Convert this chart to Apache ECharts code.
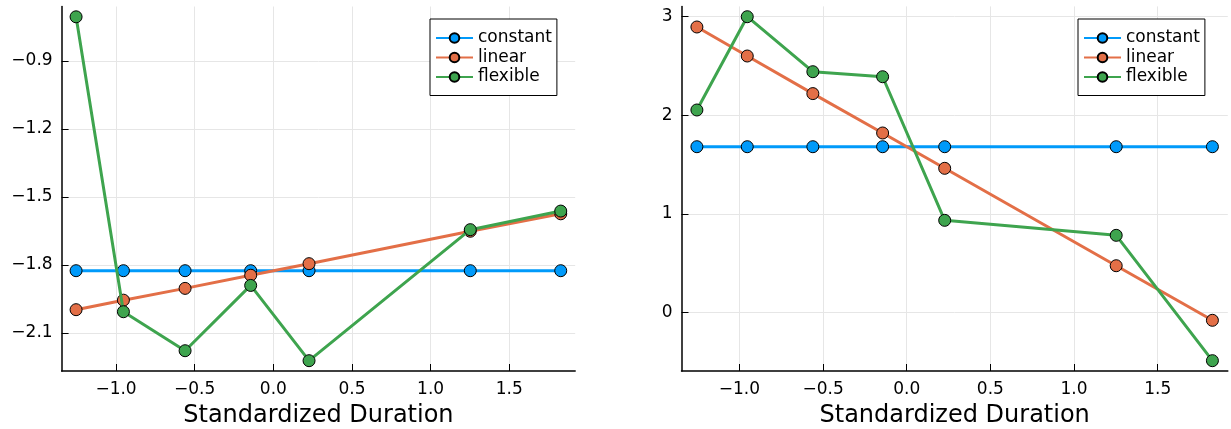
<!DOCTYPE html>
<html><head><meta charset="utf-8">
<script src="https://cdn.jsdelivr.net/npm/echarts@6/dist/echarts.min.js"></script>
<style>html,body{margin:0;padding:0;background:#fff}#c{width:1231px;height:429px}</style>
</head><body><div id="c"></div>
<script>
const duration = [-1.254, -0.953, -0.561, -0.144, 0.227, 1.252, 1.827];
const leftConstant = [-1.825, -1.825, -1.825, -1.825, -1.825, -1.825, -1.825];
const leftLinear = [-1.997, -1.955, -1.903, -1.845, -1.794, -1.651, -1.574];
const leftFlexible = [-0.705, -2.006, -2.178, -1.890, -2.222, -1.644, -1.562];
const rightConstant = [1.682, 1.682, 1.682, 1.682, 1.682, 1.682, 1.682];
const rightLinear = [2.895, 2.601, 2.220, 1.821, 1.463, 0.476, -0.077];
const rightFlexible = [2.054, 2.999, 2.442, 2.391, 0.936, 0.784, -0.486];
const xTicks = [-1.0, -0.5, 0.0, 0.5, 1.0, 1.5];
const leftYTicks = [-2.1, -1.8, -1.5, -1.2, -0.9];
const rightYTicks = [0, 1, 2, 3];
const seriesNames = ['constant', 'linear', 'flexible'];
const colors = ['#009AFA', '#E36F47', '#3EA44E'];
const xTitle = 'Standardized Duration';

const FONT = 'DejaVu Sans';
const fmt = d => v => (v < -1e-9 ? '\u2212' : '') + Math.abs(v).toFixed(d);

function xAxis(gi) {
  return {
    type: 'value', gridIndex: gi, min: -1.346, max: 1.919,
    name: xTitle, nameLocation: 'middle', nameGap: 33,
    nameTextStyle: {fontSize: 24, color: '#000', fontFamily: FONT},
    axisLine: {show: true, onZero: false, lineStyle: {color: '#000', width: 1.5}},
    axisTick: {show: true, inside: true, length: 7, customValues: xTicks, lineStyle: {color: '#000', width: 1}},
    axisLabel: {customValues: xTicks, formatter: fmt(1), fontSize: 17, color: '#000', fontFamily: FONT, margin: 10},
    splitLine: {show: true, lineStyle: {color: '#e6e6e6', width: 1}}
  };
}
function yAxis(gi, min, max, ticks, dec) {
  return {
    type: 'value', gridIndex: gi, min: min, max: max,
    axisLine: {show: true, onZero: false, lineStyle: {color: '#000', width: 1.5}},
    axisTick: {show: true, inside: true, length: 7, customValues: ticks, lineStyle: {color: '#000', width: 1}},
    axisLabel: {customValues: ticks, formatter: fmt(dec), fontSize: 17, color: '#000', fontFamily: FONT, margin: 9},
    splitLine: {show: true, lineStyle: {color: '#e6e6e6', width: 1}}
  };
}
function mk(name, idx, gi, vals) {
  return {
    name: name, type: 'line', xAxisIndex: gi, yAxisIndex: gi,
    data: duration.map((x, i) => [x, vals[i]]),
    symbol: 'circle', symbolSize: 12, showSymbol: true,
    lineStyle: {color: colors[idx], width: 3},
    itemStyle: {color: colors[idx], borderColor: '#000', borderWidth: 1},
    emphasis: {disabled: true}, silent: true, z: 2 + idx
  };
}
function legend(left) {
  return {
    data: seriesNames, left: left, top: 19, orient: 'vertical',
    itemWidth: 37, itemHeight: 12, itemGap: 2.5, padding: [10.5, 5, 10, 5],
    borderColor: '#000', borderWidth: 1, backgroundColor: '#fff',
    textStyle: {fontSize: 17, color: '#000', fontFamily: FONT}
  };
}
const chart = echarts.init(document.getElementById('c'), null, {renderer: 'canvas'});
chart.setOption({
  animation: false,
  backgroundColor: '#fff',
  grid: [
    {left: 61.6, right: 655.8, top: 6.5, bottom: 58, containLabel: false, outerBoundsMode: 'none'},
    {left: 681.5, right: 3.2, top: 6.4, bottom: 58, containLabel: false, outerBoundsMode: 'none'}
  ],
  xAxis: [xAxis(0), xAxis(1)],
  yAxis: [yAxis(0, -2.2675, -0.6595, leftYTicks, 1), yAxis(1, -0.5906, 3.1036, rightYTicks, 0)],
  legend: [legend(430), legend(1078)],
  series: [
    mk('constant', 0, 0, leftConstant),
    mk('linear', 1, 0, leftLinear),
    mk('flexible', 2, 0, leftFlexible),
    mk('constant', 0, 1, rightConstant),
    mk('linear', 1, 1, rightLinear),
    mk('flexible', 2, 1, rightFlexible)
  ]
});
</script></body></html>
